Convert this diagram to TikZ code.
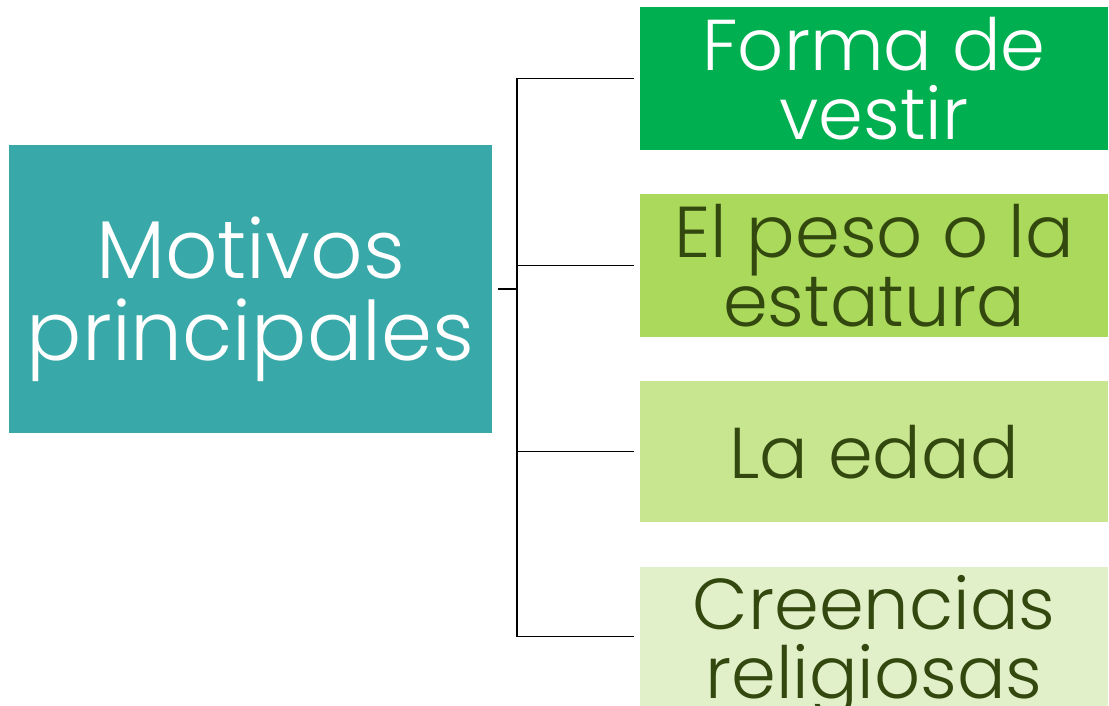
\documentclass[tikz,border=0pt]{standalone}
\usepackage{fontspec}
\setmainfont{Poppins}[UprightFont=* Light]
\usepackage{tikz}
\usetikzlibrary{positioning}

\definecolor{tealbox}{HTML}{38A9A8}
\definecolor{greenA}{HTML}{00B050}
\definecolor{greenB}{HTML}{AAD95B}
\definecolor{greenC}{HTML}{C8E590}
\definecolor{greenD}{HTML}{E2F0C9}
\definecolor{olivetext}{HTML}{33480F}

\tikzset{
  mainbox/.style={fill=tealbox, text=white, minimum width=483pt, minimum height=288pt,
    inner sep=0pt, align=center, text depth=0pt, font={\fontsize{82}{82}\selectfont}},
  motivebox/.style={minimum width=468pt, minimum height=142pt, inner sep=0pt, text depth=0pt,
    align=center, text=olivetext, font={\fontsize{72}{69}\selectfont}},
  link/.style={draw=black, line width=1.4pt},
}

\begin{document}
\begin{tikzpicture}[x=1pt,y=-1pt]
        \useasboundingbox (0,0) rectangle (1109,706);
        \node[mainbox] (motivos) at (250.5,289) {Motivos\\principales};
        \node[motivebox, fill=greenA, text=white, minimum height=143pt] (forma) at (874,78.5) {Forma de\\vestir};
        \node[motivebox, fill=greenB] (peso) at (874,265.5) {El peso o la\\estatura};
        \node[motivebox, fill=greenC, minimum height=141pt] (edad) at (874,451.5) {La edad};
        \node[motivebox, fill=greenD, minimum height=139pt] (creencias) at (874,636.5) {Creencias\\religiosas};
        % bracket
        \coordinate (j) at (517,289);
        \draw[link] ([xshift=6pt]motivos.east) -- (j);
        \draw[link] (j |- forma.west) -- (j |- creencias.west);
        \foreach \b in {forma,peso,edad,creencias}
            \draw[link] (j |- \b.west) -- ([xshift=-6pt]\b.west);
\end{tikzpicture}
\end{document}
